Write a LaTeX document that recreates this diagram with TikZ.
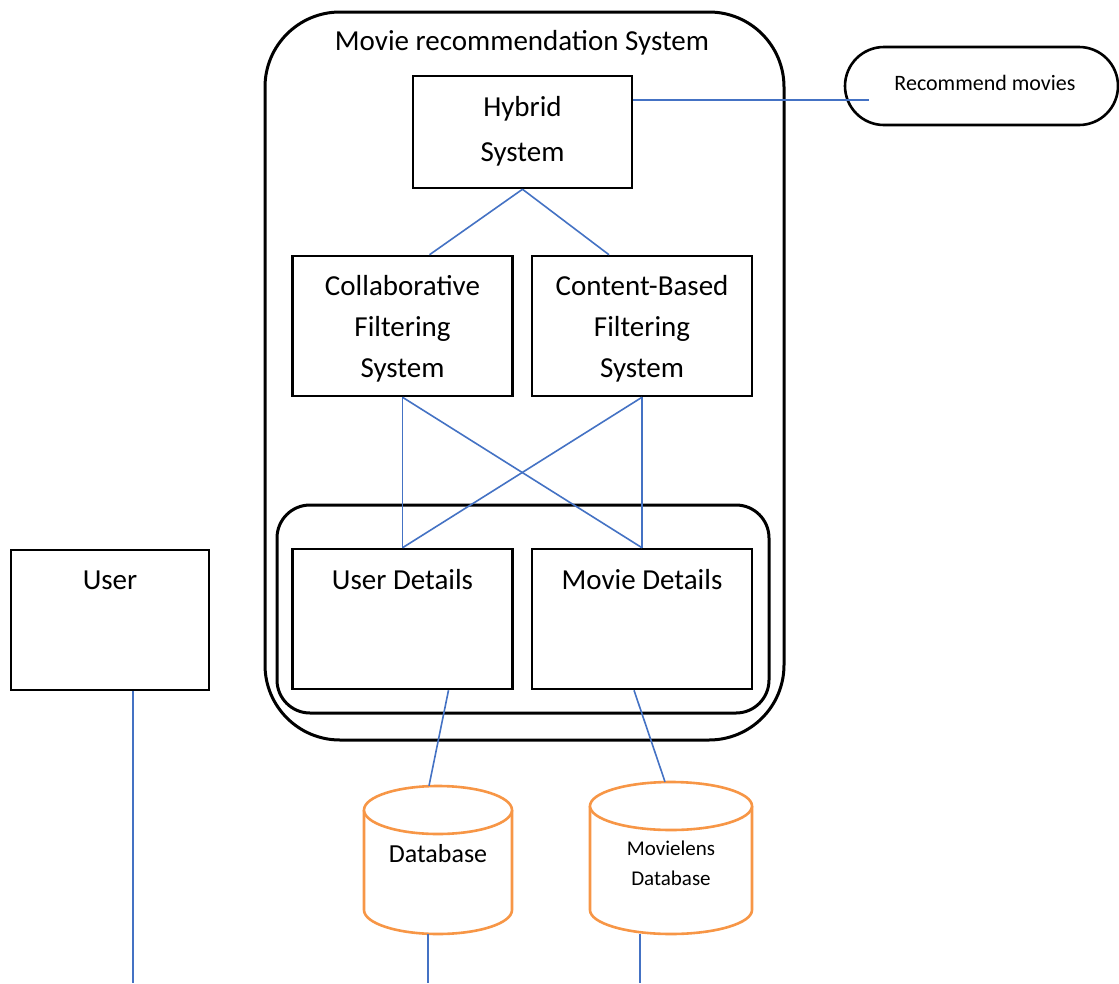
\documentclass[tikz,border=0pt]{standalone}
\usepackage{fontspec}
\setmainfont{Carlito}
\usetikzlibrary{calc}
\definecolor{lnblue}{HTML}{4472C4}
\definecolor{dborange}{HTML}{F79646}
\begin{document}
\begin{tikzpicture}[x=1pt,y=-1pt,
  box/.style={draw=black, line width=2.5pt, fill=white, inner sep=0pt},
  roundbox/.style={draw=black, line width=3pt, inner sep=0pt},
  conn/.style={draw=lnblue, line width=1.6pt},
  cyl/.style={draw=dborange, line width=2.6pt},
  big/.style={font=\fontsize{29}{41}\selectfont, align=center},
  txt/.style={big, inner sep=0pt}
]
\useasboundingbox (0,0) rectangle (1119,983);

% containers
\node[roundbox, fill=white, minimum width=519, minimum height=728, rounded corners=75] (mrs) at (524.5,376) {};
\node[txt] (title) at (522,43) {Movie recommendation System};
\node[roundbox, minimum width=492, minimum height=208, rounded corners=33] (details) at (523,609) {};

% boxes
\node[box, minimum width=219, minimum height=112] (hyb) at (522.5,132) {};
\node[txt, font=\fontsize{29}{45}\selectfont] (hybt) at (522.5,131) {Hybrid\\System};
\node[box, minimum width=220, minimum height=140] (collab) at (402.5,326) {};
\node[txt] (collabt) at (402.5,329) {Collaborative\\Filtering\\System};
\node[box, minimum width=220, minimum height=140] (content) at (642,326) {};
\node[txt] (contentt) at (642,329) {Content-Based\\Filtering\\System};
\node[box, minimum width=220, minimum height=140] (ud) at (402.5,619) {};
\node[txt] (udt) at (402.5,580) {User Details};
\node[box, minimum width=220, minimum height=140] (md) at (642,619) {};
\node[txt] (mdt) at (642,580) {Movie Details};
\node[box, minimum width=198, minimum height=140] (user) at (110,620) {};
\node[txt] (usert) at (110,580) {User};

% recommend movies
\node[draw=black, line width=2.6pt, inner sep=0pt, minimum width=273, minimum height=78, rounded corners=39] (rec) at (981.5,86) {};
\node[inner sep=0pt, font=\fontsize{22}{26}\selectfont] (rect) at (985,83) {Recommend movies};

% databases
\node[inner sep=0pt, minimum width=148, minimum height=148] (db1) at (438,860) {};
\path[fill=white] (364,810) -- (364,910) arc[start angle=180, end angle=360, x radius=74pt, y radius=24pt] -- (512,810) -- cycle;
\draw[cyl] (364,810) -- (364,910) arc[start angle=180, end angle=360, x radius=74pt, y radius=24pt] -- (512,810);
\draw[cyl, fill=white] (438,810) ellipse [x radius=74pt, y radius=24pt];
\node[inner sep=0pt, font=\fontsize{26}{30}\selectfont] (db1t) at (438,854) {Database};

\node[inner sep=0pt, minimum width=162, minimum height=152] (db2) at (671,858) {};
\path[fill=white] (590,806) -- (590,910) arc[start angle=180, end angle=360, x radius=81pt, y radius=24pt] -- (752,806) -- cycle;
\draw[cyl] (590,806) -- (590,910) arc[start angle=180, end angle=360, x radius=81pt, y radius=24pt] -- (752,806);
\draw[cyl, fill=white] (671,806) ellipse [x radius=81pt, y radius=24pt];
\node[inner sep=0pt, align=center, font=\fontsize{21}{30}\selectfont] (db2t) at (671,863) {Movielens\\Database};

% free ends
\coordinate (userend) at (133,983);
\coordinate (db1end) at (428,983);
\coordinate (db2end) at (640,983);

% connectors
\draw[conn] (hyb.south) -- ([xshift=27pt]collab.north);
\draw[conn] (hyb.south) -- ([xshift=-33pt]content.north);
\draw[conn] ([yshift=32pt]hyb.east) -- ([xshift=25pt,yshift=-14pt]rec.west);
\draw[conn] (collab.south) -- (ud.north);
\draw[conn] (collab.south) -- (md.north);
\draw[conn] (content.south) -- (md.north);
\draw[conn] (content.south) -- (ud.north);
\draw[conn] ([xshift=46pt]ud.south) -- ([xshift=-9pt]db1.north);
\draw[conn] ([xshift=-8pt]md.south) -- ([xshift=-6pt]db2.north);
\draw[conn] ([xshift=23pt]user.south) -- (userend);
\draw[conn] ([xshift=-10pt]db1.south) -- (db1end);
\draw[conn] ([xshift=-31pt]db2.south) -- (db2end);
\end{tikzpicture}
\end{document}
